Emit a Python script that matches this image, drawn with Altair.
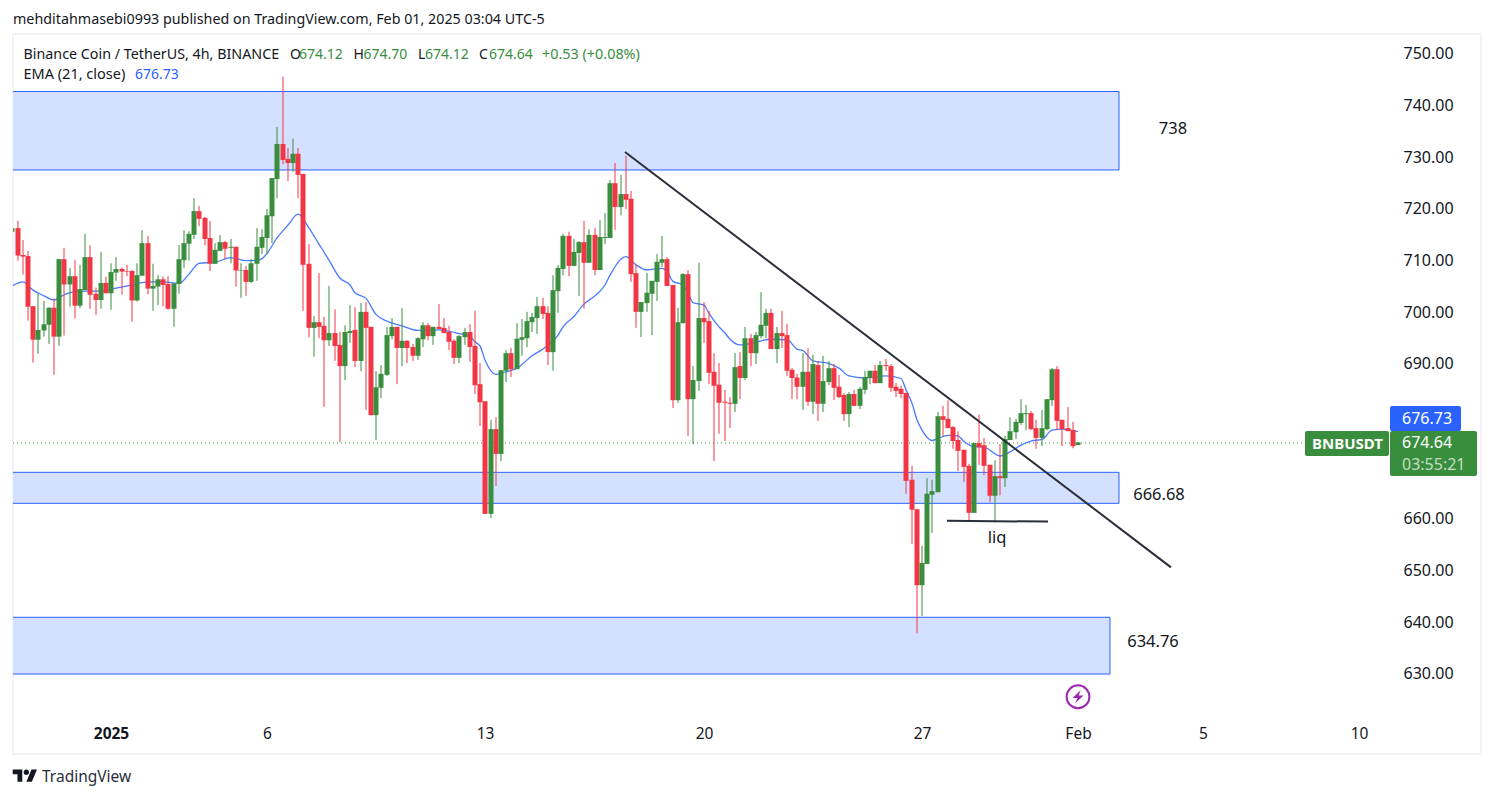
import altair as alt
import pandas as pd

# ---------- candle values (open, high, low, close) ----------
opens = [715.4,716.1,710.9,710.7,701.0,694.5,696.3,697.4,700.7,695.1,710.1,705.2,706.8,701.1,704.1,710.5,703.4,702.2,705.5,703.5,
707.5,708.2,707.8,707.8,702.1,706.9,713.2,704.4,704.8,706.2,705.3,700.5,705.3,709.9,713.1,714.8,719.4,718.1,714.2,709.2,
711.7,713.4,712.3,712.5,707.9,708.0,705.7,709.2,712.3,714.2,718.4,725.6,732.4,729.5,728.7,730.5,726.6,709.2,696.8,697.9,
697.2,694.4,695.8,693.5,689.4,695.8,696.4,690.4,699.9,697.0,679.9,685.2,687.7,695.2,697.0,692.9,694.3,693.1,691.4,694.6,
697.3,695.2,697.0,696.8,696.0,694.3,691.0,695.0,696.0,693.3,685.9,682.6,660.8,677.2,672.4,688.5,691.9,688.8,694.5,694.8,
697.9,698.7,701.0,699.7,692.1,703.9,708.2,714.6,708.8,711.3,713.4,709.4,714.8,708.0,714.2,714.2,724.8,720.2,722.7,721.8,
707.4,699.9,701.6,703.4,705.7,709.4,710.1,705.1,682.8,697.7,707.2,683.0,686.5,698.7,698.1,688.3,685.8,682.5,682.3,682.1,
689.4,687.1,694.8,691.9,695.2,697.2,699.7,692.7,695.8,695.4,688.7,687.2,685.4,688.3,682.5,689.6,682.1,686.3,689.0,685.4,
683.8,680.1,684.0,681.7,684.8,687.1,688.5,686.1,689.6,689.4,685.4,685.0,684.2,667.4,661.7,647.0,651.1,664.5,665.0,679.7,
679.2,677.6,675.1,673.2,670.1,661.0,674.5,674.1,670.3,664.3,668.1,667.7,675.1,676.6,678.4,680.1,680.3,677.4,675.5,677.2,
682.8,688.8,679.0,677.4,677.0,674.12]
highs = [716.2,717.5,713.8,711.7,701.0,703.5,702.0,700.8,702.5,710.2,712.3,708.4,709.9,709.0,715.0,712.8,704.6,711.5,706.7,709.3,
710.5,708.5,709.0,708.0,709.3,715.7,714.6,709.2,707.0,706.8,706.8,705.4,712.8,715.7,715.5,721.9,720.4,718.3,717.5,713.2,
714.8,713.6,714.0,712.5,709.3,708.8,710.1,716.1,715.9,719.8,725.8,735.7,745.4,731.6,733.4,731.6,726.6,713.0,699.1,707.4,
698.9,704.9,700.4,696.0,697.3,701.2,700.8,701.6,701.8,697.0,688.4,689.6,697.0,698.7,697.0,700.6,694.4,693.7,695.0,697.9,
697.7,697.0,701.4,698.7,697.2,694.6,695.4,696.8,697.5,700.1,690.0,682.6,679.0,679.5,688.6,692.5,692.9,697.7,698.5,699.9,
699.7,702.8,702.6,701.0,707.0,709.0,715.0,715.4,714.0,713.6,717.5,715.9,716.1,717.7,719.0,725.4,728.7,726.4,730.1,723.3,
709.0,701.8,707.4,705.9,711.1,714.6,710.5,705.1,700.7,707.4,708.0,689.4,709.4,701.8,700.1,691.9,690.0,684.8,683.4,691.9,
692.1,697.0,695.6,696.0,703.7,700.5,700.5,697.0,700.1,697.6,689.0,687.9,691.9,692.9,691.6,690.4,691.4,690.4,689.8,687.7,
684.2,684.4,684.8,685.4,688.5,688.5,689.6,690.4,690.8,689.8,686.1,685.6,684.2,670.1,661.7,654.6,667.7,667.4,680.5,681.7,
682.8,677.8,676.8,673.2,670.5,674.5,680.0,675.5,670.3,671.2,674.3,675.9,679.5,679.2,683.0,681.9,680.7,679.0,680.9,683.0,
689.0,689.4,679.0,681.5,678.6,674.70]
lows = [714.0,709.8,707.1,698.2,690.1,691.8,695.1,693.7,687.7,693.3,695.3,700.9,698.6,700.6,704.1,700.5,699.3,700.5,703.5,700.3,
705.9,703.2,706.8,698.0,701.9,706.9,703.3,700.1,701.2,701.0,700.3,697.0,703.4,708.4,709.8,714.0,716.5,712.8,707.8,709.2,
711.7,710.2,709.3,704.8,702.6,703.0,705.5,705.9,711.1,711.1,713.2,721.9,728.5,725.2,727.0,721.9,700.1,695.0,691.2,694.8,
681.5,693.3,690.4,674.7,686.7,693.9,689.2,688.4,680.9,679.9,675.1,683.2,687.5,694.6,685.9,689.4,690.0,690.4,690.6,693.1,
694.4,693.5,696.6,695.8,692.5,689.8,690.0,693.5,690.2,684.0,677.8,660.8,660.0,666.2,671.0,686.3,687.3,688.8,691.4,693.1,
696.0,695.6,698.5,689.6,688.5,699.7,707.0,706.8,708.8,703.0,700.5,709.4,707.0,708.0,713.0,714.2,715.8,718.6,719.8,705.7,
696.8,695.0,699.9,695.4,702.0,708.6,704.9,681.3,682.3,697.7,675.9,674.3,684.6,693.9,685.9,671.0,676.3,674.9,677.4,680.5,
683.0,686.7,689.4,689.8,694.8,694.8,692.7,690.0,692.9,687.5,683.0,683.0,680.9,681.7,680.1,678.8,680.5,685.7,682.8,683.2,
678.8,677.6,681.7,681.1,684.0,685.9,686.1,686.1,688.5,684.4,683.4,683.2,664.7,655.0,637.7,641.0,651.1,657.1,665.0,675.9,
677.4,673.4,669.1,667.0,659.4,661.0,670.3,668.3,663.1,659.2,664.4,666.0,675.1,675.3,678.0,677.0,677.0,673.4,673.9,677.0,
681.7,677.0,673.9,676.8,673.5,674.12]
closes = [716.1,710.8,710.6,700.9,694.5,696.4,697.5,700.7,695.1,710.1,705.2,706.8,701.1,704.3,710.5,703.2,702.2,705.5,703.5,707.6,
708.2,707.7,707.7,702.1,707.0,713.2,704.4,704.9,706.2,705.1,700.5,705.4,710.1,713.2,715.0,719.4,717.9,714.0,709.2,711.9,
713.4,712.1,712.5,707.9,708.0,705.7,709.3,712.5,714.4,718.6,725.8,732.4,729.3,728.7,730.5,726.4,709.0,696.8,697.9,697.0,
694.4,695.8,693.3,689.4,696.0,696.2,690.4,699.9,696.8,679.9,685.3,687.9,695.4,697.0,692.9,694.3,692.9,691.4,694.8,697.3,
695.2,697.0,696.6,695.8,694.1,691.0,695.2,696.0,693.1,685.7,682.4,660.8,677.2,672.4,688.6,691.9,688.8,694.7,695.0,698.1,
698.9,701.0,699.5,692.1,704.1,708.4,714.6,708.8,711.5,713.4,709.4,714.8,708.0,714.4,714.4,724.8,720.2,722.7,721.6,707.2,
699.9,701.8,703.6,705.9,709.6,710.1,704.9,682.8,697.9,707.2,683.0,686.7,698.7,697.9,688.1,685.6,682.3,682.3,682.1,689.2,
687.1,694.8,691.9,695.4,697.4,699.7,692.7,695.8,695.2,688.5,687.1,685.4,688.3,682.5,689.8,682.1,686.5,689.0,685.2,683.4,
680.1,684.0,681.7,685.0,687.3,688.5,686.1,689.6,689.4,685.2,684.6,684.0,667.2,661.6,647.0,651.3,664.7,665.2,679.7,679.0,
677.4,674.9,673.0,669.9,661.0,674.5,673.7,670.1,664.3,668.1,667.7,675.3,676.8,678.6,680.3,680.3,677.2,675.5,677.4,683.0,
688.8,678.8,677.2,676.8,673.9,674.64]

# ---------- EMA (candle number, value) ----------
ema_idx = [0,2,4,6,8,10,13,17,19,23,26,29,32,34,36,39,42,45,47,48,49,51,53,55,57,59,61,63,65,66,68,70,72,75,78,82,86,88,89,90,91,93,95,97,100,102,105,106,108,110,112,114,115,118,120,122,125,126,127,129,130,131,133,134,136,137,138,140,142,144,146,149,151,152,154,157,159,161,164,168,171,172,173,174,175,177,178,180,182,183,185,187,190,192,194,196,198,200,202,205]
ema_val = [704.9,705.7,704.1,703.0,702.2,703.2,703.9,703.9,704.3,705.1,705.7,705.7,705.4,707.2,709.3,709.5,710.4,709.8,709.9,710.2,711.2,714.2,716.7,718.8,716.1,713.0,709.9,706.4,705.1,703.6,702.5,699.4,698.1,697.2,696.3,696.4,695.7,695.1,694.1,693.3,690.6,687.8,688.3,689.0,691.4,692.7,695.4,697.0,699.0,701.4,703.0,705.1,707.0,710.6,709.0,708.0,708.3,707.7,705.8,705.1,703.5,701.7,701.2,699.6,697.0,695.8,694.6,693.5,693.8,694.3,694.6,694.5,692.7,692.4,690.4,689.9,689.0,687.5,687.1,687.5,687.0,684.8,682.2,679.0,677.0,675.0,675.4,676.0,675.9,674.8,673.8,673.7,672.0,672.8,674.1,674.9,675.2,677.0,677.2,676.73]

# ---------- annotations: days relative to 1 Feb 2025, prices ----------
zone_days_end = [1.3145, 1.3145, 1.026]
zone_top = [742.55, 668.84, 640.78]
zone_bot = [727.36, 662.84, 629.80]
trend_days = [-14.524, 2.98]
trend_price = [730.85, 650.45]
liq_days = [-4.2, -0.96]
liq_price = [659.45, 659.3]
note_text = ["738", "666.68", "634.76", "liq"]
note_days = [3.05, 2.6, 2.4, -2.6]
note_price = [735.3, 664.45, 636.0, 656.1]
y_ticks = [630, 640, 650, 660, 670, 680, 690, 700, 710, 720, 730, 740, 750]
y_hidden = [670, 680]   # covered by the price labels in the reference
last_close = 674.64

DAY = 86400000
FEB1 = int(pd.Timestamp("2025-02-01", tz="UTC").value / 1e6)
d2ms = lambda d: FEB1 + int(d * DAY)
x_ticks = [d2ms(d) for d in (-31, -26, -19, -12, -5, 0, 4, 9)]
x_dom = [d2ms(-34.146), d2ms(12.92)]
y_dom = [614.32, 753.68]
GREEN, RED, BLUE, INK = "#388e3c", "#f23645", "#2962ff", "#131722"
FONT = "Noto Sans"

x_axis = alt.Axis(values=x_ticks, domain=False, ticks=False, grid=False, orient="bottom", offset=-21,
                  labelFontSize=15.5, labelColor=INK, labelFont=FONT, labelPadding=0, labelBaseline="middle",
                  labelFlush=False, labelOverlap=False, labelAlign="center",
                  labelFontWeight={"condition": {"test": "utcdate(datum.value)==1 && utcmonth(datum.value)==0", "value": "bold"}, "value": "normal"},
                  labelExpr="utcdate(datum.value)==1 ? (utcmonth(datum.value)==0 ? '2025' : 'Feb') : utcdate(datum.value)+''")
y_axis = alt.Axis(values=[t for t in y_ticks if t not in y_hidden], domain=False, ticks=False, grid=False,
                  orient="right", offset=-78, labelFontSize=16, labelColor=INK, labelFont=FONT, labelPadding=0,
                  labelOffset=0.7, format=".2f", labelOverlap=False, labelFlush=False)


def X(f):
    return alt.X(f, type="temporal", scale=alt.Scale(type="utc", domain=x_dom, padding=0, round=True), axis=x_axis, title=None)


def Y(f):
    return alt.Y(f, type="quantitative", scale=alt.Scale(domain=y_dom), axis=y_axis, title=None)


n = len(opens)
cd = pd.DataFrame({"t": [FEB1 - (n - 1 - i) * DAY // 6 for i in range(n)],
                   "o": opens, "h": highs, "l": lows, "c": closes})
cd["col"] = [GREEN if c >= o else RED for o, c in zip(opens, closes)]
cd["top"] = cd[["o", "c"]].max(axis=1)
cd["bot"] = cd[["o", "c"]].min(axis=1)
ema = pd.DataFrame({"t": [FEB1 - (205 - i) * DAY // 6 for i in ema_idx], "v": ema_val})
zones = pd.DataFrame({"a": [d2ms(-60)] * 3, "b": [d2ms(d) for d in zone_days_end], "top": zone_top, "bot": zone_bot})
trend = pd.DataFrame({"t": [d2ms(d) for d in trend_days], "p": trend_price})
liq = pd.DataFrame({"t": [d2ms(d) for d in liq_days], "p": liq_price})
notes = pd.DataFrame({"t": [d2ms(d) for d in note_days], "p": note_price, "s": note_text})

zone_layer = alt.Chart(zones).mark_rect(color="#d4e0ff", stroke=BLUE, strokeWidth=1, clip=True).encode(
    x=X("a"), x2="b", y=Y("top"), y2="bot")
last_line = alt.Chart(pd.DataFrame({"p": [last_close]})).mark_rule(color=GREEN, strokeDash=[1, 3], strokeWidth=1, yOffset=0.6).encode(
    y=Y("p"), x=alt.value(0), x2=alt.value(1292))
ema_layer = alt.Chart(ema).mark_line(color=BLUE, strokeWidth=1.3, opacity=0.85, clip=True, interpolate="monotone").encode(x=X("t"), y=Y("v"))
wicks = alt.Chart(cd).mark_rule(strokeWidth=1, clip=True).encode(
    x=X("t"), y=Y("h"), y2="l", color=alt.Color("col:N", scale=None))
bodies = alt.Chart(cd).mark_bar(size=5, clip=True).encode(
    x=X("t"), y=Y("top"), y2="bot", color=alt.Color("col:N", scale=None))
trend_layer = alt.Chart(trend).mark_line(color="#2a2e39", strokeWidth=2).encode(x=X("t"), y=Y("p"))
liq_layer = alt.Chart(liq).mark_line(color="#2a2e39", strokeWidth=2).encode(x=X("t"), y=Y("p"))
note_layer = alt.Chart(notes).mark_text(fontSize=16.5, font=FONT, color=INK, align="center").encode(
    x=X("t"), y=Y("p"), text="s:N")
flash = pd.DataFrame({"t": [FEB1], "p": [625.4]})
flash_ring = alt.Chart(flash).mark_point(shape="circle", size=520, color="#9c27b0", strokeWidth=2, opacity=1).encode(x=X("t"), y=Y("p"))
flash_bolt = alt.Chart(flash).mark_point(
    shape="M0.25,-0.6L-0.5,0.12L-0.05,0.12L-0.25,0.6L0.5,-0.12L0.05,-0.12Z", size=484, color="#9c27b0", filled=True, opacity=1
).encode(x=X("t"), y=Y("p"))


def page_text(s, px, py, size=14, color=INK, weight="normal", align="left"):
    return alt.Chart(pd.DataFrame({"s": [s]})).mark_text(
        fontSize=size, font=FONT, color=color, fontWeight=weight, align=align, baseline="middle"
    ).encode(x=alt.value(px - 13), y=alt.value(py - 34), text="s:N")


def page_box(a, b, top, bot, color):
    return alt.Chart(pd.DataFrame({"c": [color]})).mark_rect(color=color, cornerRadius=2).encode(
        x=alt.value(a - 13), x2=alt.value(b - 13), y=alt.value(top - 34), y2=alt.value(bot - 34))


header = [
    page_text("mehditahmasebi0993 published on TradingView.com, Feb 01, 2025 03:04 UTC-5", 13, 20, 14.3),
    page_text("Binance Coin / TetherUS, 4h, BINANCE", 23.5, 55, 14.3),
    page_text("O", 290, 55, 14), page_text("674.12", 299, 55, 14, GREEN),
    page_text("H", 353.5, 55, 14), page_text("674.70", 363.5, 55, 14, GREEN),
    page_text("L", 418, 55, 14), page_text("674.12", 425, 55, 14, GREEN),
    page_text("C", 479, 55, 14), page_text("674.64", 489, 55, 14, GREEN),
    page_text("+0.53 (+0.08%)", 542, 55, 14.4, GREEN),
    page_text("EMA (21, close)", 23.5, 75, 14.5), page_text("676.73", 135, 75, 14, BLUE),
    page_text("TradingView", 42, 777, 15.5, "#2a2e39"),
]
labels = [
    page_box(1305, 1389, 431, 456, GREEN), page_box(1390, 1461, 406, 431, BLUE), page_box(1390, 1477, 431, 476, GREEN),
    page_text("BNBUSDT", 1312, 444, 15, "#ffffff", "bold"),
    page_text("676.73", 1402, 418.5, 16, "#ffffff"),
    page_text("674.64", 1402, 442.5, 16, "#ffffff"),
    page_text("03:55:21", 1402, 465, 16, "#c3dec5"),
]
logo = alt.Chart(pd.DataFrame({"s": ["TV"]})).mark_point(
    shape="M-0.222,0.5L-0.611,0.5L-0.611,-0.111L-1,-0.111L-1,-0.5L-0.222,-0.5ZM0.556,0.5L0.111,0.5L0.528,-0.5L0.972,-0.5Z"
          "M-0.111,-0.278a0.222,0.222 0 1 0 0.444,0a0.222,0.222 0 1 0 -0.444,0Z",
    size=605, color=INK, filled=True, opacity=1
).encode(x=alt.value(25 - 13), y=alt.value(775.6 - 34))

chart = alt.layer(
    zone_layer, last_line, ema_layer, wicks, bodies, trend_layer, liq_layer, note_layer,
    flash_ring, flash_bolt, *labels, *header, logo
).properties(
    width=1468, height=720,
    padding={"left": 5, "top": 26, "right": 5, "bottom": 34},
    autosize=alt.AutoSizeParams(type="none"),
    background="#ffffff",
).configure_view(stroke="#f0f3fa", strokeWidth=2)

chart.save("out.html", embed_options={"renderer": "svg", "actions": False})
